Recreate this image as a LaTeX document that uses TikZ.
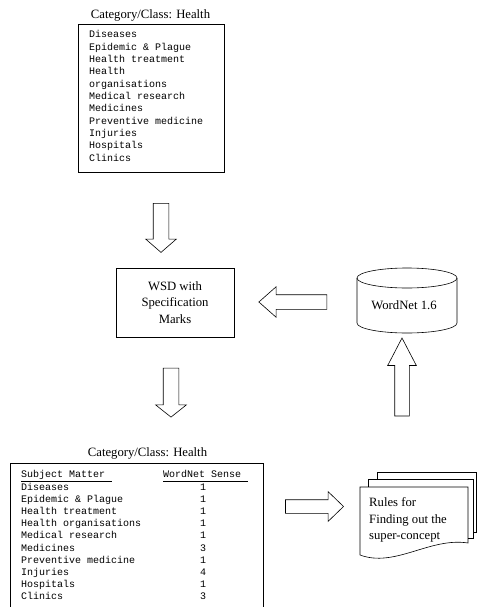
\documentclass[tikz,border=0pt]{standalone}
\usepackage{fontspec}
\setmainfont{Liberation Serif}
\setmonofont{Liberation Mono}
\usetikzlibrary{shapes.arrows}

\tikzset{
  outline/.style={line width=0.6pt},
  caption/.style={font=\fontsize{12.7}{16.5}\selectfont, inner sep=0pt},
  listtext/.style={font=\ttfamily\fontsize{10}{12.2}\selectfont, inner sep=0pt},
  % hollow block arrow: shaft width = 2 * inner ysep
  blockarrow/.style={single arrow, draw, line width=0.6pt, inner xsep=0pt,
    inner ysep=7.5pt, single arrow head indent=0pt, minimum width=0pt,
    single arrow head extend=7.5pt}
}

\begin{document}
\begin{tikzpicture}[x=1pt,y=-1pt]
\useasboundingbox (0,0) rectangle (477,607);

% ---- input category list ----
\node[caption, anchor=base] (titleA) at (150.5,18.3) {Category/Class: Health};
\draw[outline] (78,24) rectangle (224,172);
\foreach \t [count=\i] in {Diseases, Epidemic \& Plague, Health treatment, Health,
  organisations, Medical research, Medicines, Preventive medicine, Injuries,
  Hospitals, Clinics}
  \node[listtext, anchor=base west] (in\i) at (89,{38+12.3*(\i-1)}) {\t};

% ---- arrow into WSD ----
\node[blockarrow, rotate=-90, minimum height=49pt, single arrow tip angle=98]
  (a1) at (161,224.5) {};

% ---- WSD box ----
\node[caption, draw, outline, minimum width=118pt, minimum height=69pt, align=center]
  (wsd) at (175,302.5) {WSD with\\Specification\\Marks};

% ---- WordNet database ----
\draw[outline] (357,278) -- (357,323)
  arc[start angle=180, end angle=360, x radius=50pt, y radius=10pt] -- (457,278);
\draw[outline] (407,278) ellipse[x radius=50pt, y radius=10pt];
\node[caption] (wn) at (404,305) {WordNet 1.6};

% ---- WordNet feeds WSD ----
\node[blockarrow, rotate=180, minimum height=68pt, inner ysep=7pt,
  single arrow head extend=8pt, single arrow tip angle=83] (a3) at (297,302) {};

% ---- arrow out of WSD ----
\node[blockarrow, rotate=-90, minimum height=49pt, single arrow tip angle=103]
  (a2) at (171,389.5) {};

% ---- disambiguated list ----
\node[caption, anchor=base] (titleB) at (147.5,456.3) {Category/Class: Health};
\draw[outline] (10,607) -- (10,463) -- (263,463) -- (263,607);
\node[listtext, anchor=base west] (hdA) at (21,477.8) {Subject Matter};
\node[listtext, anchor=base west] (hdB) at (163,477.8) {WordNet Sense};
\draw[outline] (21,481) -- (112,481);
\draw[outline] (163,481) -- (248,481);
\foreach \s/\n [count=\i] in {Diseases/1, Epidemic \& Plague/1, Health treatment/1,
  Health organisations/1, Medical research/1, Medicines/3, Preventive medicine/1,
  Injuries/4, Hospitals/1, Clinics/3}
{
  \node[listtext, anchor=base west] (sm\i) at (21,{490+12.2*(\i-1)}) {\s};
  \node[listtext, anchor=base] (ws\i) at (203,{490+12.2*(\i-1)}) {\n};
}

% ---- arrow to the rules ----
\node[blockarrow, minimum height=58pt, inner ysep=6.5pt,
  single arrow head extend=8pt, single arrow tip angle=88] (a5) at (311,506.5) {};

% ---- rules (stacked documents) ----
\draw[outline] (377,479) -- (377,472) -- (476.5,472) -- (476.5,532) -- (473,532);
\draw[outline] (368,487) -- (368,479) -- (473,479) -- (473,538) -- (468,538);
\draw[outline] (360,555) -- (360,487) -- (468,487) -- (468,543)
  .. controls (430,537) and (395,568) .. (360,555);
\node[caption, anchor=west, align=left] (rules) at (369,520)
  {Rules for\\Finding out the\\super-concept};

% ---- rules feed WordNet ----
\node[blockarrow, rotate=90, minimum height=78pt, inner ysep=7pt,
  single arrow head extend=7pt, single arrow tip angle=55] (a4) at (402,384) {};
\end{tikzpicture}
\end{document}
